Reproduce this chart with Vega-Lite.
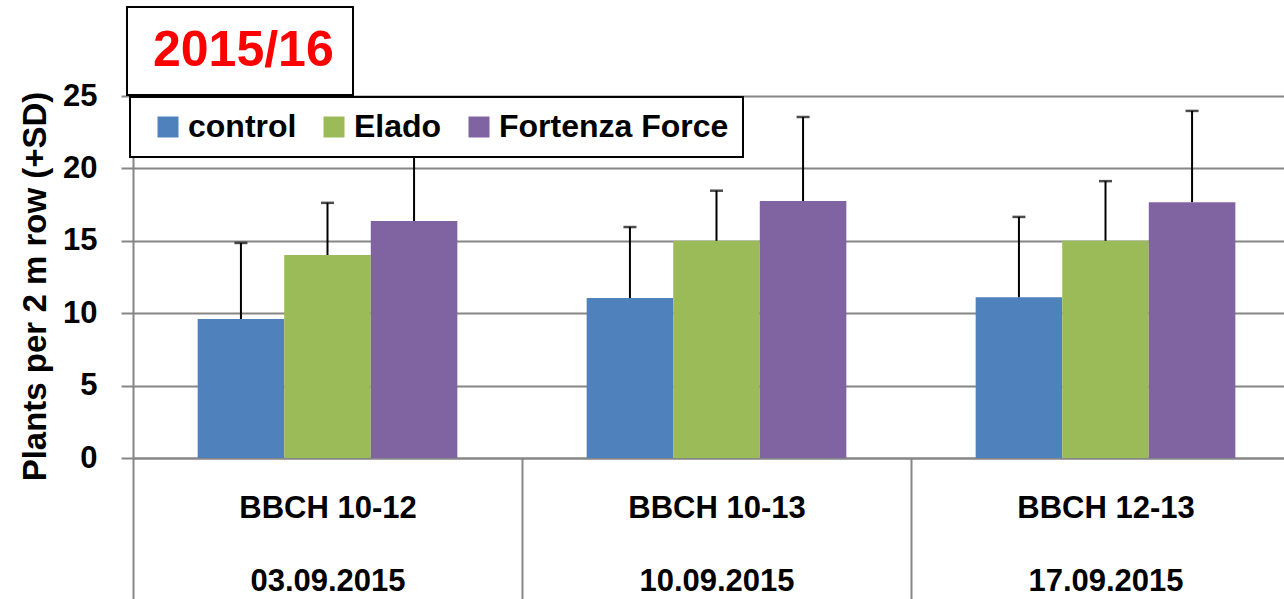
{
  "$schema": "https://vega.github.io/schema/vega-lite/v6.json",
  "autosize": "none",
  "width": 1167,
  "height": 362,
  "padding": {"left": 133, "top": 96, "right": 0, "bottom": 141},
  "background": "white",
  "config": {"view": {"stroke": null}, "font": "Liberation Sans", "legend": {"strokeWidth": 2}},
  "layer": [
    {
      "data": {
        "values": [
          {"category": "BBCH 10-12|03.09.2015", "treatment": "control", "mean": 9.6, "upper": 14.85},
          {"category": "BBCH 10-12|03.09.2015", "treatment": "Elado", "mean": 14.02, "upper": 17.62},
          {"category": "BBCH 10-12|03.09.2015", "treatment": "Fortenza Force", "mean": 16.37, "upper": 21.8},
          {"category": "BBCH 10-13|10.09.2015", "treatment": "control", "mean": 11.05, "upper": 15.95},
          {"category": "BBCH 10-13|10.09.2015", "treatment": "Elado", "mean": 15.0, "upper": 18.46},
          {"category": "BBCH 10-13|10.09.2015", "treatment": "Fortenza Force", "mean": 17.75, "upper": 23.55},
          {"category": "BBCH 12-13|17.09.2015", "treatment": "control", "mean": 11.1, "upper": 16.65},
          {"category": "BBCH 12-13|17.09.2015", "treatment": "Elado", "mean": 15.0, "upper": 19.12},
          {"category": "BBCH 12-13|17.09.2015", "treatment": "Fortenza Force", "mean": 17.67, "upper": 23.97}
        ]
      },
      "encoding": {
        "x": {
          "field": "category",
          "type": "nominal",
          "sort": null,
          "scale": {"paddingInner": 0, "paddingOuter": 0},
          "axis": {
            "title": null,
            "labelExpr": "isValid(datum.value) ? split(datum.value, '|') : ''",
            "labelFont": "Liberation Sans",
            "labelFontSize": 31,
            "labelFontWeight": "bold",
            "labelColor": "black",
            "labelAngle": 0,
            "labelLineHeight": 73,
            "labelPadding": -106,
            "labelLimit": 400,
            "tickBand": "extent",
            "tickSize": 141,
            "tickColor": "#868686",
            "tickWidth": 2,
            "domainColor": "#868686",
            "domainWidth": 2
          }
        },
        "xOffset": {
          "field": "treatment",
          "type": "nominal",
          "sort": ["control", "Elado", "Fortenza Force"],
          "scale": {"paddingInner": 0, "paddingOuter": 0.747}
        }
      },
      "layer": [
        {
          "mark": {"type": "bar"},
          "encoding": {
            "y": {
              "field": "mean",
              "type": "quantitative",
              "scale": {"domain": [0, 25], "nice": false},
              "axis": {
                "title": "Plants per 2 m row (+SD)",
                "titleFont": "Liberation Sans",
                "titleFontSize": 33,
                "titleFontWeight": "bold",
                "titleColor": "black",
                "titleY": 190,
                "titlePadding": 10,
                "values": [0, 5, 10, 15, 20, 25],
                "labelFont": "Liberation Sans",
                "labelFontSize": 31,
                "labelFontWeight": "bold",
                "labelColor": "black",
                "labelPadding": 24,
                "tickSize": 12,
                "tickColor": "#868686",
                "tickWidth": 2,
                "grid": true,
                "gridColor": "#868686",
                "gridWidth": 2,
                "domainColor": "#868686",
                "domainWidth": 2
              }
            },
            "color": {
              "field": "treatment",
              "type": "nominal",
              "scale": {
                "domain": ["control", "Elado", "Fortenza Force"],
                "range": ["#4F81BD", "#9BBB59", "#8064A2"]
              },
              "legend": {
                "orient": "none",
                "legendX": -3,
                "legendY": 1,
                "direction": "horizontal",
                "columns": 3,
                "title": null,
                "strokeColor": "black",
                "fillColor": "white",
                "padding": 14,
                "symbolType": "square",
                "symbolSize": 441,
                "symbolStrokeWidth": 0,
                "symbolOffset": 8,
                "labelFont": "Liberation Sans",
                "labelFontSize": 32,
                "labelFontWeight": "bold",
                "labelColor": "black",
                "labelOffset": 4,
                "columnPadding": 13,
                "labelLimit": 400
              }
            }
          }
        },
        {
          "mark": {"type": "rule", "color": "black", "strokeWidth": 2},
          "encoding": {
            "y": {"field": "mean", "type": "quantitative"},
            "y2": {"field": "upper"}
          }
        },
        {
          "mark": {"type": "tick", "orient": "horizontal", "color": "black", "thickness": 2.5, "size": 13},
          "encoding": {
            "y": {"field": "upper", "type": "quantitative"}
          }
        }
      ]
    },
    {
      "data": {"values": [{"season": "2015/16"}]},
      "mark": {"type": "point", "opacity": 0},
      "encoding": {
        "shape": {
          "field": "season",
          "type": "nominal",
          "legend": {
            "orient": "none",
            "legendX": -6,
            "legendY": -89,
            "title": null,
            "strokeColor": "black",
            "fillColor": "white",
            "padding": 19,
            "symbolSize": 0,
            "symbolStrokeWidth": 0,
            "symbolOpacity": 0,
            "labelOffset": -43,
            "labelFont": "Liberation Sans",
            "labelFontSize": 50,
            "labelFontWeight": "bold",
            "labelColor": "#FF0000",
            "labelLimit": 400
          }
        }
      }
    }
  ]
}
